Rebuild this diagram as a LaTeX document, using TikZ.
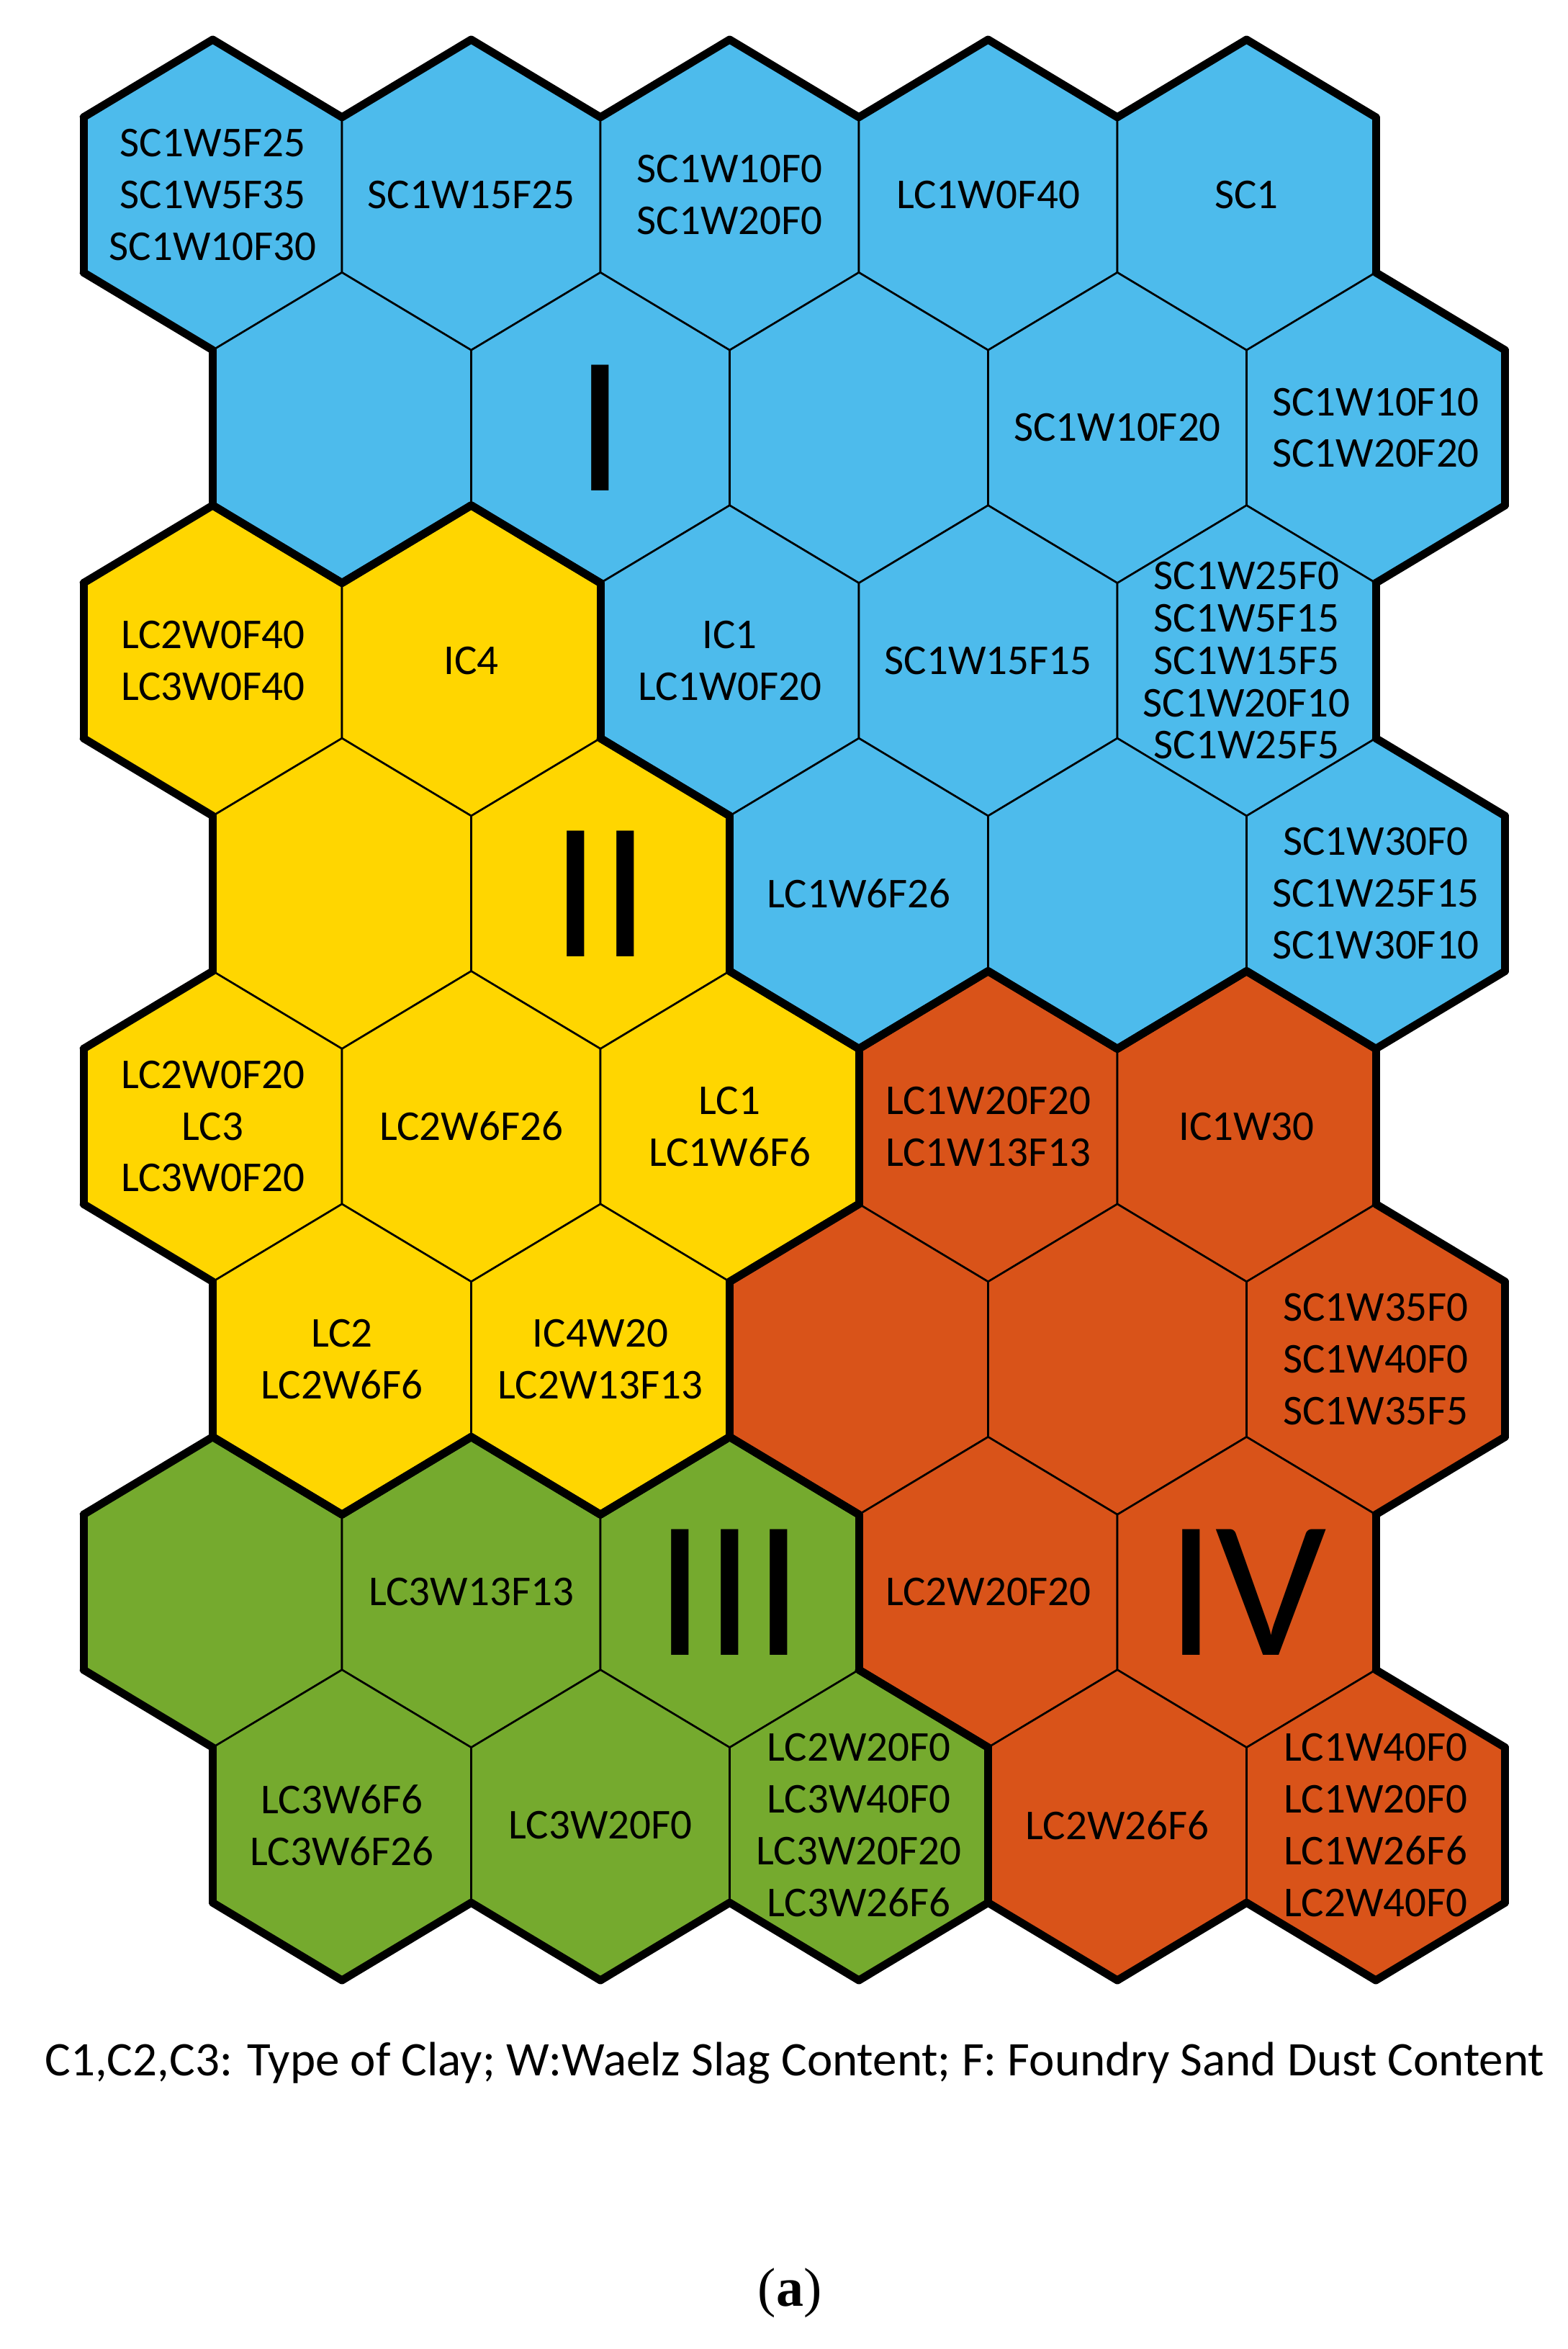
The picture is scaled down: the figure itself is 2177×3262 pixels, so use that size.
\documentclass[tikz,border=0pt]{standalone}
\usepackage{fontspec}
\setmainfont{Carlito}
\newfontfamily\capserif{Liberation Serif}
\definecolor{cl1}{RGB}{77,187,236}
\definecolor{cl2}{RGB}{255,214,0}
\definecolor{cl3}{RGB}{117,170,46}
\definecolor{cl4}{RGB}{217,83,25}
\def\clarr{{1,1,1,1,1,1,1,1,1,1,2,2,1,1,1,2,2,1,1,1,2,2,2,4,4,2,2,4,4,4,3,3,3,4,4,3,3,3,4,4}}
\newcommand\getcl[2]{%
  \def\clv{0}%
  \ifnum#1>-1 \ifnum#1<8 \ifnum#2>-1 \ifnum#2<5
    \pgfmathtruncatemacro\clv{\clarr[#1*5+#2]}%
  \fi\fi\fi\fi}
\begin{document}
\begin{tikzpicture}[x=1pt,y=1pt,
  thinline/.style={line width=2.6pt, draw=black, line join=miter},
  thickline/.style={line width=11pt, line cap=round, draw=black},
  lbl/.style={align=center, inner sep=0pt, text=black, font=\fontsize{59}{71.8}\selectfont},
  lblt/.style={align=center, inner sep=0pt, text=black, font=\fontsize{59}{58.8}\selectfont},
  roman/.style={inner sep=0pt, text=black, font=\fontsize{272}{272}\selectfont}]
\fill[white] (0,0) rectangle (2177,-3262);
\useasboundingbox (0,0) rectangle (2177,-3262);
\def\hw{179.5}\def\hh{215.6}
% fills and thin outlines
\foreach \hr in {0,...,7}{
  \foreach \hc in {0,...,4}{
    \pgfmathsetmacro\cx{295.5+359*\hc+179.5*mod(\hr,2)}
    \pgfmathsetmacro\cy{-270.6-323.4*\hr}
    \getcl{\hr}{\hc}
    \coordinate (c\hr\hc) at (\cx,\cy);
    \filldraw[fill=cl\clv, thinline] (\cx,\cy+\hh) -- (\cx+\hw,\cy+0.5*\hh) -- (\cx+\hw,\cy-0.5*\hh) -- (\cx,\cy-\hh) -- (\cx-\hw,\cy-0.5*\hh) -- (\cx-\hw,\cy+0.5*\hh) -- cycle;
  }
}
% thick cluster borders
\foreach \hr in {0,...,7}{
  \foreach \hc in {0,...,4}{
    \pgfmathsetmacro\cx{295.5+359*\hc+179.5*mod(\hr,2)}
    \pgfmathsetmacro\cy{-270.6-323.4*\hr}
    \pgfmathtruncatemacro\rpar{mod(\hr,2)}
    \getcl{\hr}{\hc}\edef\myc{\clv}
    \foreach \ddr/\ddc/\duu/\pax/\pay/\pbx/\pby in {-1/0/1/0/1/1/0.5, 0/1/0/1/0.5/1/-0.5, 1/0/1/1/-0.5/0/-1, 1/-1/1/0/-1/-1/-0.5, 0/-1/0/-1/-0.5/-1/0.5, -1/-1/1/-1/0.5/0/1}{
      \pgfmathtruncatemacro\nrr{\hr+\ddr}
      \pgfmathtruncatemacro\ncc{\hc+\ddc+\duu*\rpar}
      \getcl{\nrr}{\ncc}
      \ifnum\clv=\myc\relax\else
        \pgfmathsetmacro\pxa{\cx+\pax*\hw}\pgfmathsetmacro\pya{\cy+\pay*\hh}
        \pgfmathsetmacro\pxb{\cx+\pbx*\hw}\pgfmathsetmacro\pyb{\cy+\pby*\hh}
        \draw[thickline] (\pxa,\pya) -- (\pxb,\pyb);
      \fi
    }
  }
}
% labels
\node[lbl] (t00) at (c00) {SC1W5F25\\SC1W5F35\\SC1W10F30};
\node[lbl] (t01) at (c01) {SC1W15F25};
\node[lbl] (t02) at (c02) {SC1W10F0\\SC1W20F0};
\node[lbl] (t03) at (c03) {LC1W0F40};
\node[lbl] (t04) at (c04) {SC1};
\node[roman] (rI) at (c11) {I};
\node[lbl] (t13) at (c13) {SC1W10F20};
\node[lbl] (t14) at (c14) {SC1W10F10\\SC1W20F20};
\node[lbl] (t20) at (c20) {LC2W0F40\\LC3W0F40};
\node[lbl] (t21) at (c21) {IC4};
\node[lbl] (t22) at (c22) {IC1\\LC1W0F20};
\node[lbl] (t23) at (c23) {SC1W15F15};
\node[lblt] (t24) at (c24) {SC1W25F0\\SC1W5F15\\SC1W15F5\\SC1W20F10\\SC1W25F5};
\node[roman] (rII) at (c31) {II};
\node[lbl] (t32) at (c32) {LC1W6F26};
\node[lbl] (t34) at (c34) {SC1W30F0\\SC1W25F15\\SC1W30F10};
\node[lbl] (t40) at (c40) {LC2W0F20\\LC3\\LC3W0F20};
\node[lbl] (t41) at (c41) {LC2W6F26};
\node[lbl] (t42) at (c42) {LC1\\LC1W6F6};
\node[lbl] (t43) at (c43) {LC1W20F20\\LC1W13F13};
\node[lbl] (t44) at (c44) {IC1W30};
\node[lbl] (t50) at (c50) {LC2\\LC2W6F6};
\node[lbl] (t51) at (c51) {IC4W20\\LC2W13F13};
\node[lbl] (t54) at (c54) {SC1W35F0\\SC1W40F0\\SC1W35F5};
\node[lbl] (t61) at (c61) {LC3W13F13};
\node[roman] (rIII) at (c62) {III};
\node[lbl] (t63) at (c63) {LC2W20F20};
\node[roman] (rIV) at (c64) {IV};
\node[lbl] (t70) at (c70) {LC3W6F6\\LC3W6F26};
\node[lbl] (t71) at (c71) {LC3W20F0};
\node[lbl] (t72) at (c72) {LC2W20F0\\LC3W40F0\\LC3W20F20\\LC3W26F6};
\node[lbl] (t73) at (c73) {LC2W26F6};
\node[lbl] (t74) at (c74) {LC1W40F0\\LC1W20F0\\LC1W26F6\\LC2W40F0};
% caption
\node[anchor=base, inner sep=0pt, text=black, font=\fontsize{67}{80}\selectfont] (cap) at (1104,-2882) {C1,C2,C3: Type of Clay; W:Waelz Slag Content; F: Foundry Sand Dust Content};
\node[anchor=base, inner sep=0pt, text=black, font=\capserif\fontsize{76}{80}\selectfont] (sub) at (1097,-3202) {(\textbf{a})};
\end{tikzpicture}
\end{document}
